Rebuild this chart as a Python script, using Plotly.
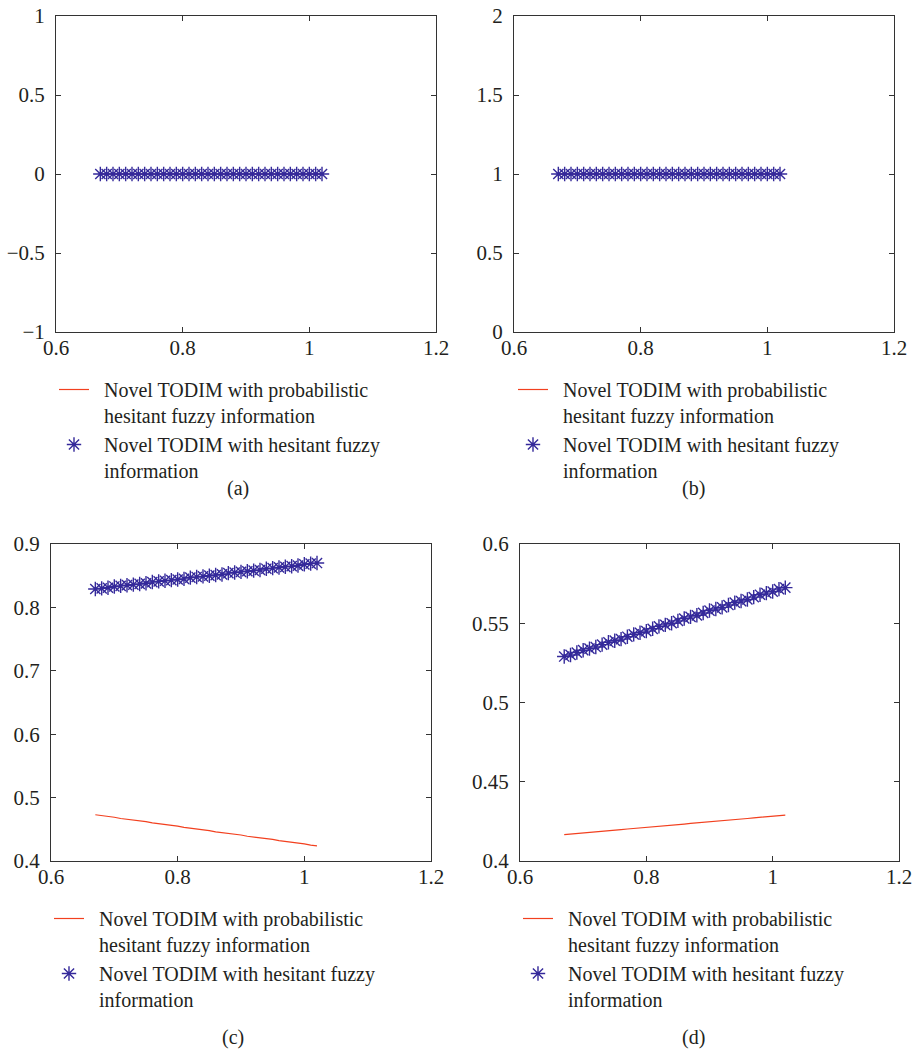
import plotly.graph_objects as go

W, H = 921, 1051

x_vals = [0.67, 0.68, 0.69, 0.70, 0.71, 0.72, 0.73, 0.74, 0.75, 0.76, 0.77, 0.78,
          0.79, 0.80, 0.81, 0.82, 0.83, 0.84, 0.85, 0.86, 0.87, 0.88, 0.89, 0.90,
          0.91, 0.92, 0.93, 0.94, 0.95, 0.96, 0.97, 0.98, 0.99, 1.00, 1.01, 1.02]

phf_a = [0.0, 0.0, 0.0, 0.0, 0.0, 0.0, 0.0, 0.0, 0.0, 0.0, 0.0, 0.0,
         0.0, 0.0, 0.0, 0.0, 0.0, 0.0, 0.0, 0.0, 0.0, 0.0, 0.0, 0.0,
         0.0, 0.0, 0.0, 0.0, 0.0, 0.0, 0.0, 0.0, 0.0, 0.0, 0.0, 0.0]
hf_a = [0.0, 0.0, 0.0, 0.0, 0.0, 0.0, 0.0, 0.0, 0.0, 0.0, 0.0, 0.0,
        0.0, 0.0, 0.0, 0.0, 0.0, 0.0, 0.0, 0.0, 0.0, 0.0, 0.0, 0.0,
        0.0, 0.0, 0.0, 0.0, 0.0, 0.0, 0.0, 0.0, 0.0, 0.0, 0.0, 0.0]

phf_b = [1.0, 1.0, 1.0, 1.0, 1.0, 1.0, 1.0, 1.0, 1.0, 1.0, 1.0, 1.0,
         1.0, 1.0, 1.0, 1.0, 1.0, 1.0, 1.0, 1.0, 1.0, 1.0, 1.0, 1.0,
         1.0, 1.0, 1.0, 1.0, 1.0, 1.0, 1.0, 1.0, 1.0, 1.0, 1.0, 1.0]
hf_b = [1.0, 1.0, 1.0, 1.0, 1.0, 1.0, 1.0, 1.0, 1.0, 1.0, 1.0, 1.0,
        1.0, 1.0, 1.0, 1.0, 1.0, 1.0, 1.0, 1.0, 1.0, 1.0, 1.0, 1.0,
        1.0, 1.0, 1.0, 1.0, 1.0, 1.0, 1.0, 1.0, 1.0, 1.0, 1.0, 1.0]

phf_c = [0.473, 0.472, 0.470, 0.469, 0.467, 0.466, 0.465, 0.463, 0.462, 0.460,
         0.459, 0.458, 0.456, 0.455, 0.453, 0.452, 0.451, 0.449, 0.448, 0.446,
         0.445, 0.444, 0.442, 0.441, 0.439, 0.438, 0.437, 0.435, 0.434, 0.432,
         0.431, 0.430, 0.428, 0.427, 0.425, 0.424]
hf_c = [0.829, 0.830, 0.831, 0.833, 0.834, 0.835, 0.836, 0.837, 0.838, 0.840,
        0.841, 0.842, 0.843, 0.844, 0.845, 0.847, 0.848, 0.849, 0.850, 0.851,
        0.852, 0.854, 0.855, 0.856, 0.857, 0.858, 0.859, 0.861, 0.862, 0.863,
        0.864, 0.865, 0.866, 0.868, 0.869, 0.870]

phf_d = [0.4167, 0.4170, 0.4174, 0.4177, 0.4181, 0.4184, 0.4188, 0.4191, 0.4195, 0.4198,
         0.4202, 0.4205, 0.4209, 0.4212, 0.4216, 0.4219, 0.4223, 0.4226, 0.4230, 0.4233,
         0.4237, 0.4240, 0.4244, 0.4247, 0.4251, 0.4254, 0.4258, 0.4261, 0.4265, 0.4268,
         0.4272, 0.4275, 0.4279, 0.4282, 0.4286, 0.4290]
hf_d = [0.529, 0.530, 0.5315, 0.533, 0.534, 0.535, 0.5365, 0.538, 0.539, 0.540,
        0.5415, 0.543, 0.544, 0.545, 0.5465, 0.548, 0.549, 0.550, 0.5515, 0.553,
        0.554, 0.555, 0.5565, 0.558, 0.559, 0.560, 0.5615, 0.563, 0.564, 0.565,
        0.5665, 0.568, 0.569, 0.570, 0.5715, 0.5725]

x_ticks = [0.6, 0.8, 1.0, 1.2]
x_tick_text = ["0.6", "0.8", "1", "1.2"]
y_ticks_a = [-1, -0.5, 0, 0.5, 1]
y_text_a = ["\u22121", "\u22120.5", "0", "0.5", "1"]
y_ticks_b = [0, 0.5, 1, 1.5, 2]
y_text_b = ["0", "0.5", "1", "1.5", "2"]
y_ticks_c = [0.4, 0.5, 0.6, 0.7, 0.8, 0.9]
y_text_c = ["0.4", "0.5", "0.6", "0.7", "0.8", "0.9"]
y_ticks_d = [0.4, 0.45, 0.5, 0.55, 0.6]
y_text_d = ["0.4", "0.45", "0.5", "0.55", "0.6"]

PAD = "\u00a0\u00a0"
name_phf = PAD + "Novel TODIM with probabilistic<br>" + PAD + "hesitant fuzzy information"
name_hf = PAD + "Novel TODIM with hesitant fuzzy<br>" + PAD + "information"
captions = ["(a)", "(b)", "(c)", "(d)"]

RED = "#f2401f"
BLUE = "#34299a"
AX = "#333333"
TXT = "#231f20"
FONT = "Liberation Serif"

# panel boxes in pixels: left, right, top, bottom
boxes = [(56, 436, 16, 332), (514, 894, 16, 332), (51, 431, 544, 861), (520, 899, 544, 861)]
legend_pos = [(54, 370), (513, 370), (49, 899), (518, 899)]
caption_pos = [(238, 488), (693, 488), (233, 1037), (693, 1037)]

panels = [
    (phf_a, hf_a, y_ticks_a, y_text_a, [-1, 1]),
    (phf_b, hf_b, y_ticks_b, y_text_b, [0, 2]),
    (phf_c, hf_c, y_ticks_c, y_text_c, [0.4, 0.9]),
    (phf_d, hf_d, y_ticks_d, y_text_d, [0.4, 0.6]),
]

fig = go.Figure()
layout = {}
annotations = []
for i, (phf, hf, yt, ytt, yr) in enumerate(panels):
    sfx = "" if i == 0 else str(i + 1)
    lg = "legend" if i == 0 else "legend" + str(i + 1)
    fig.add_trace(go.Scatter(x=x_vals, y=phf, mode="lines", name=name_phf,
                             line=dict(color=RED, width=1.2),
                             xaxis="x" + sfx, yaxis="y" + sfx, legend=lg))
    fig.add_trace(go.Scatter(x=x_vals, y=hf, mode="markers", name=name_hf,
                             marker=dict(symbol="asterisk-open", size=12, color=BLUE,
                                         line=dict(color=BLUE, width=1.4)),
                             xaxis="x" + sfx, yaxis="y" + sfx, legend=lg))
    l, r, t, b = boxes[i]
    axcommon = dict(showline=True, mirror="ticks", linecolor=AX, linewidth=1,
                    ticks="inside", ticklen=5, tickcolor=AX, tickwidth=1,
                    showgrid=False, zeroline=False, automargin=False,
                    tickfont=dict(family=FONT, size=21, color=TXT))
    layout["xaxis" + sfx] = dict(domain=[l / W, r / W], range=[0.6, 1.2],
                                 tickvals=x_ticks, ticktext=x_tick_text,
                                 anchor="y" + sfx, ticklabelstandoff=-3, **axcommon)
    layout["yaxis" + sfx] = dict(domain=[1 - b / H, 1 - t / H], range=yr,
                                 tickvals=yt, ticktext=ytt,
                                 anchor="x" + sfx, ticklabelstandoff=6, **axcommon)
    lx, ly = legend_pos[i]
    layout[lg] = dict(x=lx / W, y=1 - ly / H, xanchor="left", yanchor="top",
                      xref="paper", yref="paper", bgcolor="rgba(0,0,0,0)",
                      font=dict(family=FONT, size=20, color=TXT),
                      itemwidth=30, valign="top", tracegroupgap=0)
    cx, cy = caption_pos[i]
    annotations.append(dict(text=captions[i], x=cx / W, y=1 - cy / H, xref="paper",
                            yref="paper", showarrow=False, xanchor="center",
                            yanchor="middle",
                            font=dict(family=FONT, size=20, color=TXT)))

fig.update_layout(**layout)
fig.update_layout(width=W, height=H, margin=dict(l=0, r=0, t=0, b=0),
                  paper_bgcolor="white", plot_bgcolor="white",
                  showlegend=True, annotations=annotations)

fig.write_html("out.html")
